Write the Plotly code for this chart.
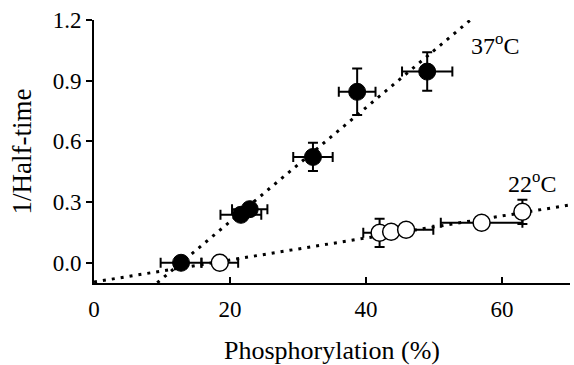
import plotly.graph_objects as go

# 37 °C (filled circles)
x37 = [12.8, 21.6, 22.9, 32.2, 38.7, 49.0]
y37 = [0.0, 0.237, 0.265, 0.523, 0.845, 0.945]
x37_err = [3.0, 3.0, 2.6, 2.9, 2.7, 3.7]
y37_err = [0.0, 0.0, 0.0, 0.07, 0.115, 0.095]

# 22 °C (open circles)
x22 = [18.5, 42.0, 43.7, 45.9, 57.0, 63.0]
y22 = [0.0, 0.148, 0.153, 0.163, 0.198, 0.252]
x22_err = [2.7, 2.4, 0.0, 4.0, 6.0, 0.0]
y22_err = [0.0, 0.07, 0.0, 0.0, 0.0, 0.06]

# fitted lines: slope, intercept, x-start, x-end
fit37 = dict(slope=0.0282, intercept=-0.361, x0=9.3, x1=56.0)
fit22 = dict(slope=0.00544, intercept=-0.095, x0=0.0, x1=70.0)

x_ticks = [0, 20, 40, 60]
y_ticks = [0.0, 0.3, 0.6, 0.9, 1.2]

FONT = "Liberation Serif"

fig = go.Figure()

for f in (fit37, fit22):
    xs = [f["x0"], f["x1"]]
    ys = [f["slope"] * v + f["intercept"] for v in xs]
    fig.add_trace(go.Scatter(x=xs, y=ys, mode="lines",
                             line=dict(color="black", width=3, dash="3px,6px"),
                             hoverinfo="skip", showlegend=False))

fig.add_trace(go.Scatter(
    x=x22, y=y22, mode="markers",
    marker=dict(size=17, color="white", line=dict(color="black", width=1.5)),
    error_x=dict(type="data", array=x22_err, color="black", thickness=2, width=5),
    error_y=dict(type="data", array=y22_err, color="black", thickness=2, width=5),
    showlegend=False))

fig.add_trace(go.Scatter(
    x=x37, y=y37, mode="markers",
    marker=dict(size=17, color="black", line=dict(color="black", width=1)),
    error_x=dict(type="data", array=x37_err, color="black", thickness=2, width=5),
    error_y=dict(type="data", array=y37_err, color="black", thickness=2, width=5),
    showlegend=False))

fig.add_annotation(x=58.9, y=1.08, text="37<sup>o</sup>C", showarrow=False,
                   font=dict(family=FONT, size=24, color="black"))
fig.add_annotation(x=64.4, y=0.40, text="22<sup>o</sup>C", showarrow=False,
                   font=dict(family=FONT, size=24, color="black"))

fig.update_layout(
    template="none",
    width=574, height=365,
    margin=dict(l=94, r=4, t=20, b=82),
    paper_bgcolor="white", plot_bgcolor="white",
    font=dict(family=FONT, size=23, color="black"),
    xaxis=dict(range=[0, 70], tickvals=x_ticks, ticks="inside", ticklen=6,
               tickwidth=1.5, tickcolor="black", showgrid=False, zeroline=False,
               showline=True, linecolor="black", linewidth=2, automargin=False,
               ticklabelstandoff=4,
               title=dict(text="Phosphorylation (%)", standoff=22,
                          font=dict(family=FONT, size=26)),
               tickfont=dict(family=FONT, size=23)),
    yaxis=dict(range=[-0.1, 1.2], tickvals=y_ticks, tickformat=".1f",
               ticks="outside", ticklen=6, tickwidth=1.5, tickcolor="black",
               showgrid=False, zeroline=False, showline=True, automargin=False,
               linecolor="black", linewidth=2,
               title=dict(text="1/Half-time", standoff=13,
                          font=dict(family=FONT, size=27)),
               tickfont=dict(family=FONT, size=23)),
)

fig.write_html("out.html")
